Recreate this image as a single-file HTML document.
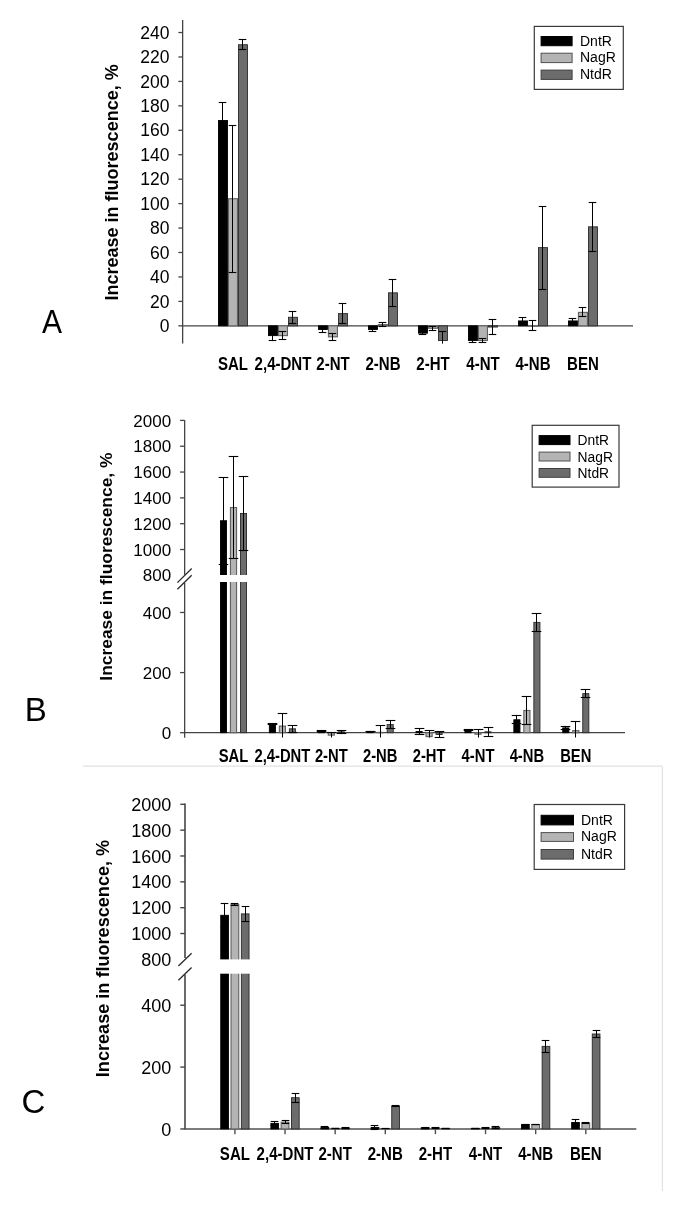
<!DOCTYPE html>
<html><head><meta charset="utf-8"><style>
html,body{margin:0;padding:0;background:#fff;}
svg{display:block;will-change:transform;filter:blur(0.35px);}
text{font-family:"Liberation Sans", sans-serif;fill:#000;}
</style></head><body>
<svg width="685" height="1220" viewBox="0 0 685 1220">
<rect width="685" height="1220" fill="#fff"/>
<line x1="182.64" y1="20.00" x2="182.64" y2="343.60" stroke="#444444" stroke-width="1.3"/>
<line x1="178.40" y1="325.83" x2="182.64" y2="325.83" stroke="#444444" stroke-width="1.3"/>
<text x="169.40" y="332.03" font-size="17.5" font-weight="normal" text-anchor="end" >0</text>
<line x1="178.40" y1="301.39" x2="182.64" y2="301.39" stroke="#444444" stroke-width="1.3"/>
<text x="169.40" y="307.59" font-size="17.5" font-weight="normal" text-anchor="end" >20</text>
<line x1="178.40" y1="276.95" x2="182.64" y2="276.95" stroke="#444444" stroke-width="1.3"/>
<text x="169.40" y="283.15" font-size="17.5" font-weight="normal" text-anchor="end" >40</text>
<line x1="178.40" y1="252.50" x2="182.64" y2="252.50" stroke="#444444" stroke-width="1.3"/>
<text x="169.40" y="258.70" font-size="17.5" font-weight="normal" text-anchor="end" >60</text>
<line x1="178.40" y1="228.06" x2="182.64" y2="228.06" stroke="#444444" stroke-width="1.3"/>
<text x="169.40" y="234.26" font-size="17.5" font-weight="normal" text-anchor="end" >80</text>
<line x1="178.40" y1="203.62" x2="182.64" y2="203.62" stroke="#444444" stroke-width="1.3"/>
<text x="169.40" y="209.82" font-size="17.5" font-weight="normal" text-anchor="end" >100</text>
<line x1="178.40" y1="179.18" x2="182.64" y2="179.18" stroke="#444444" stroke-width="1.3"/>
<text x="169.40" y="185.38" font-size="17.5" font-weight="normal" text-anchor="end" >120</text>
<line x1="178.40" y1="154.74" x2="182.64" y2="154.74" stroke="#444444" stroke-width="1.3"/>
<text x="169.40" y="160.94" font-size="17.5" font-weight="normal" text-anchor="end" >140</text>
<line x1="178.40" y1="130.29" x2="182.64" y2="130.29" stroke="#444444" stroke-width="1.3"/>
<text x="169.40" y="136.49" font-size="17.5" font-weight="normal" text-anchor="end" >160</text>
<line x1="178.40" y1="105.85" x2="182.64" y2="105.85" stroke="#444444" stroke-width="1.3"/>
<text x="169.40" y="112.05" font-size="17.5" font-weight="normal" text-anchor="end" >180</text>
<line x1="178.40" y1="81.41" x2="182.64" y2="81.41" stroke="#444444" stroke-width="1.3"/>
<text x="169.40" y="87.61" font-size="17.5" font-weight="normal" text-anchor="end" >200</text>
<line x1="178.40" y1="56.97" x2="182.64" y2="56.97" stroke="#444444" stroke-width="1.3"/>
<text x="169.40" y="63.17" font-size="17.5" font-weight="normal" text-anchor="end" >220</text>
<line x1="178.40" y1="32.53" x2="182.64" y2="32.53" stroke="#444444" stroke-width="1.3"/>
<text x="169.40" y="38.73" font-size="17.5" font-weight="normal" text-anchor="end" >240</text>
<line x1="182.64" y1="325.83" x2="633.00" y2="325.83" stroke="#444444" stroke-width="1.3"/>
<rect x="218.45" y="120.52" width="9.00" height="205.31" fill="#000000" stroke="#000000" stroke-width="0.9"/>
<rect x="228.45" y="198.73" width="9.00" height="127.10" fill="#b4b4b4" stroke="#626262" stroke-width="1.125"/>
<rect x="238.45" y="44.75" width="9.00" height="281.08" fill="#6c6c6c" stroke="#2a2a2a" stroke-width="0.9"/>
<rect x="268.45" y="325.83" width="9.00" height="9.78" fill="#000000" stroke="#000000" stroke-width="0.9"/>
<rect x="278.45" y="325.83" width="9.00" height="9.78" fill="#b4b4b4" stroke="#626262" stroke-width="1.125"/>
<rect x="288.45" y="317.28" width="9.00" height="8.55" fill="#6c6c6c" stroke="#2a2a2a" stroke-width="0.9"/>
<rect x="318.45" y="325.83" width="9.00" height="3.67" fill="#000000" stroke="#000000" stroke-width="0.9"/>
<rect x="328.45" y="325.83" width="9.00" height="11.00" fill="#b4b4b4" stroke="#626262" stroke-width="1.125"/>
<rect x="338.45" y="313.61" width="9.00" height="12.22" fill="#6c6c6c" stroke="#2a2a2a" stroke-width="0.9"/>
<rect x="368.45" y="325.83" width="9.00" height="3.67" fill="#000000" stroke="#000000" stroke-width="0.9"/>
<rect x="378.45" y="324.61" width="9.00" height="1.22" fill="#b4b4b4" stroke="#626262" stroke-width="1.125"/>
<rect x="388.45" y="292.83" width="9.00" height="33.00" fill="#6c6c6c" stroke="#2a2a2a" stroke-width="0.9"/>
<rect x="418.45" y="325.83" width="9.00" height="7.33" fill="#000000" stroke="#000000" stroke-width="0.9"/>
<rect x="428.45" y="325.83" width="9.00" height="2.44" fill="#b4b4b4" stroke="#626262" stroke-width="1.125"/>
<rect x="438.45" y="325.83" width="9.00" height="14.67" fill="#6c6c6c" stroke="#2a2a2a" stroke-width="0.9"/>
<rect x="468.45" y="325.83" width="9.00" height="14.67" fill="#000000" stroke="#000000" stroke-width="0.9"/>
<rect x="478.45" y="325.83" width="9.00" height="14.67" fill="#b4b4b4" stroke="#626262" stroke-width="1.125"/>
<rect x="488.45" y="325.83" width="9.00" height="1.22" fill="#6c6c6c" stroke="#2a2a2a" stroke-width="0.9"/>
<rect x="518.45" y="320.94" width="9.00" height="4.89" fill="#000000" stroke="#000000" stroke-width="0.9"/>
<rect x="528.45" y="325.83" width="9.00" height="0.30" fill="#b4b4b4" stroke="#626262" stroke-width="1.125"/>
<rect x="538.45" y="247.62" width="9.00" height="78.21" fill="#6c6c6c" stroke="#2a2a2a" stroke-width="0.9"/>
<rect x="568.45" y="320.94" width="9.00" height="4.89" fill="#000000" stroke="#000000" stroke-width="0.9"/>
<rect x="578.45" y="312.39" width="9.00" height="13.44" fill="#b4b4b4" stroke="#626262" stroke-width="1.125"/>
<rect x="588.45" y="226.84" width="9.00" height="98.99" fill="#6c6c6c" stroke="#2a2a2a" stroke-width="0.9"/>
<line x1="222.50" y1="102.50" x2="222.50" y2="138.50" stroke="#000000" stroke-width="1.0"/>
<line x1="218.70" y1="102.50" x2="226.30" y2="102.50" stroke="#000000" stroke-width="1.1"/>
<line x1="218.70" y1="138.50" x2="226.30" y2="138.50" stroke="#000000" stroke-width="1.1"/>
<line x1="232.50" y1="125.50" x2="232.50" y2="272.50" stroke="#000000" stroke-width="1.0"/>
<line x1="228.70" y1="125.50" x2="236.30" y2="125.50" stroke="#000000" stroke-width="1.1"/>
<line x1="228.70" y1="272.50" x2="236.30" y2="272.50" stroke="#000000" stroke-width="1.1"/>
<line x1="242.50" y1="39.50" x2="242.50" y2="49.50" stroke="#000000" stroke-width="1.0"/>
<line x1="238.70" y1="39.50" x2="246.30" y2="39.50" stroke="#000000" stroke-width="1.1"/>
<line x1="238.70" y1="49.50" x2="246.30" y2="49.50" stroke="#000000" stroke-width="1.1"/>
<line x1="272.50" y1="331.50" x2="272.50" y2="340.50" stroke="#000000" stroke-width="1.0"/>
<line x1="268.70" y1="331.50" x2="276.30" y2="331.50" stroke="#000000" stroke-width="1.1"/>
<line x1="268.70" y1="340.50" x2="276.30" y2="340.50" stroke="#000000" stroke-width="1.1"/>
<line x1="282.50" y1="331.50" x2="282.50" y2="339.50" stroke="#000000" stroke-width="1.0"/>
<line x1="278.70" y1="331.50" x2="286.30" y2="331.50" stroke="#000000" stroke-width="1.1"/>
<line x1="278.70" y1="339.50" x2="286.30" y2="339.50" stroke="#000000" stroke-width="1.1"/>
<line x1="292.50" y1="311.50" x2="292.50" y2="323.50" stroke="#000000" stroke-width="1.0"/>
<line x1="288.70" y1="311.50" x2="296.30" y2="311.50" stroke="#000000" stroke-width="1.1"/>
<line x1="288.70" y1="323.50" x2="296.30" y2="323.50" stroke="#000000" stroke-width="1.1"/>
<line x1="322.50" y1="326.50" x2="322.50" y2="332.50" stroke="#000000" stroke-width="1.0"/>
<line x1="318.70" y1="326.50" x2="326.30" y2="326.50" stroke="#000000" stroke-width="1.1"/>
<line x1="318.70" y1="332.50" x2="326.30" y2="332.50" stroke="#000000" stroke-width="1.1"/>
<line x1="332.50" y1="333.50" x2="332.50" y2="340.50" stroke="#000000" stroke-width="1.0"/>
<line x1="328.70" y1="333.50" x2="336.30" y2="333.50" stroke="#000000" stroke-width="1.1"/>
<line x1="328.70" y1="340.50" x2="336.30" y2="340.50" stroke="#000000" stroke-width="1.1"/>
<line x1="342.50" y1="303.50" x2="342.50" y2="323.50" stroke="#000000" stroke-width="1.0"/>
<line x1="338.70" y1="303.50" x2="346.30" y2="303.50" stroke="#000000" stroke-width="1.1"/>
<line x1="338.70" y1="323.50" x2="346.30" y2="323.50" stroke="#000000" stroke-width="1.1"/>
<line x1="372.50" y1="327.50" x2="372.50" y2="331.50" stroke="#000000" stroke-width="1.0"/>
<line x1="368.70" y1="327.50" x2="376.30" y2="327.50" stroke="#000000" stroke-width="1.1"/>
<line x1="368.70" y1="331.50" x2="376.30" y2="331.50" stroke="#000000" stroke-width="1.1"/>
<line x1="382.50" y1="322.50" x2="382.50" y2="326.50" stroke="#000000" stroke-width="1.0"/>
<line x1="378.70" y1="322.50" x2="386.30" y2="322.50" stroke="#000000" stroke-width="1.1"/>
<line x1="378.70" y1="326.50" x2="386.30" y2="326.50" stroke="#000000" stroke-width="1.1"/>
<line x1="392.50" y1="279.50" x2="392.50" y2="306.50" stroke="#000000" stroke-width="1.0"/>
<line x1="388.70" y1="279.50" x2="396.30" y2="279.50" stroke="#000000" stroke-width="1.1"/>
<line x1="388.70" y1="306.50" x2="396.30" y2="306.50" stroke="#000000" stroke-width="1.1"/>
<line x1="422.50" y1="331.50" x2="422.50" y2="334.50" stroke="#000000" stroke-width="1.0"/>
<line x1="418.70" y1="331.50" x2="426.30" y2="331.50" stroke="#000000" stroke-width="1.1"/>
<line x1="418.70" y1="334.50" x2="426.30" y2="334.50" stroke="#000000" stroke-width="1.1"/>
<line x1="432.50" y1="326.50" x2="432.50" y2="330.50" stroke="#000000" stroke-width="1.0"/>
<line x1="428.70" y1="326.50" x2="436.30" y2="326.50" stroke="#000000" stroke-width="1.1"/>
<line x1="428.70" y1="330.50" x2="436.30" y2="330.50" stroke="#000000" stroke-width="1.1"/>
<line x1="442.50" y1="331.50" x2="442.50" y2="343.60" stroke="#000000" stroke-width="1.0"/>
<line x1="438.70" y1="331.50" x2="446.30" y2="331.50" stroke="#000000" stroke-width="1.1"/>
<line x1="472.50" y1="338.50" x2="472.50" y2="342.50" stroke="#000000" stroke-width="1.0"/>
<line x1="468.70" y1="338.50" x2="476.30" y2="338.50" stroke="#000000" stroke-width="1.1"/>
<line x1="468.70" y1="342.50" x2="476.30" y2="342.50" stroke="#000000" stroke-width="1.1"/>
<line x1="482.50" y1="338.50" x2="482.50" y2="342.50" stroke="#000000" stroke-width="1.0"/>
<line x1="478.70" y1="338.50" x2="486.30" y2="338.50" stroke="#000000" stroke-width="1.1"/>
<line x1="478.70" y1="342.50" x2="486.30" y2="342.50" stroke="#000000" stroke-width="1.1"/>
<line x1="492.50" y1="319.50" x2="492.50" y2="334.50" stroke="#000000" stroke-width="1.0"/>
<line x1="488.70" y1="319.50" x2="496.30" y2="319.50" stroke="#000000" stroke-width="1.1"/>
<line x1="488.70" y1="334.50" x2="496.30" y2="334.50" stroke="#000000" stroke-width="1.1"/>
<line x1="522.50" y1="317.50" x2="522.50" y2="324.50" stroke="#000000" stroke-width="1.0"/>
<line x1="518.70" y1="317.50" x2="526.30" y2="317.50" stroke="#000000" stroke-width="1.1"/>
<line x1="518.70" y1="324.50" x2="526.30" y2="324.50" stroke="#000000" stroke-width="1.1"/>
<line x1="532.50" y1="320.50" x2="532.50" y2="330.50" stroke="#000000" stroke-width="1.0"/>
<line x1="528.70" y1="320.50" x2="536.30" y2="320.50" stroke="#000000" stroke-width="1.1"/>
<line x1="528.70" y1="330.50" x2="536.30" y2="330.50" stroke="#000000" stroke-width="1.1"/>
<line x1="542.50" y1="206.50" x2="542.50" y2="289.50" stroke="#000000" stroke-width="1.0"/>
<line x1="538.70" y1="206.50" x2="546.30" y2="206.50" stroke="#000000" stroke-width="1.1"/>
<line x1="538.70" y1="289.50" x2="546.30" y2="289.50" stroke="#000000" stroke-width="1.1"/>
<line x1="572.50" y1="318.50" x2="572.50" y2="323.50" stroke="#000000" stroke-width="1.0"/>
<line x1="568.70" y1="318.50" x2="576.30" y2="318.50" stroke="#000000" stroke-width="1.1"/>
<line x1="568.70" y1="323.50" x2="576.30" y2="323.50" stroke="#000000" stroke-width="1.1"/>
<line x1="582.50" y1="307.50" x2="582.50" y2="316.50" stroke="#000000" stroke-width="1.0"/>
<line x1="578.70" y1="307.50" x2="586.30" y2="307.50" stroke="#000000" stroke-width="1.1"/>
<line x1="578.70" y1="316.50" x2="586.30" y2="316.50" stroke="#000000" stroke-width="1.1"/>
<line x1="592.50" y1="202.50" x2="592.50" y2="251.50" stroke="#000000" stroke-width="1.0"/>
<line x1="588.70" y1="202.50" x2="596.30" y2="202.50" stroke="#000000" stroke-width="1.1"/>
<line x1="588.70" y1="251.50" x2="596.30" y2="251.50" stroke="#000000" stroke-width="1.1"/>
<text transform="translate(118.30,182.40) rotate(-90)" font-size="18" font-weight="bold" text-anchor="middle">Increase in fluorescence, %</text>
<text transform="translate(233.00,369.70) scale(0.86,1)" font-size="17.5" font-weight="bold" text-anchor="middle">SAL</text>
<text transform="translate(283.00,369.70) scale(0.86,1)" font-size="17.5" font-weight="bold" text-anchor="middle">2,4-DNT</text>
<text transform="translate(333.00,369.70) scale(0.86,1)" font-size="17.5" font-weight="bold" text-anchor="middle">2-NT</text>
<text transform="translate(383.00,369.70) scale(0.86,1)" font-size="17.5" font-weight="bold" text-anchor="middle">2-NB</text>
<text transform="translate(433.00,369.70) scale(0.86,1)" font-size="17.5" font-weight="bold" text-anchor="middle">2-HT</text>
<text transform="translate(483.00,369.70) scale(0.86,1)" font-size="17.5" font-weight="bold" text-anchor="middle">4-NT</text>
<text transform="translate(533.00,369.70) scale(0.86,1)" font-size="17.5" font-weight="bold" text-anchor="middle">4-NB</text>
<text transform="translate(583.00,369.70) scale(0.86,1)" font-size="17.5" font-weight="bold" text-anchor="middle">BEN</text>
<rect x="534.30" y="26.40" width="89.00" height="63.00" fill="#fff" stroke="#3a3a3a" stroke-width="1.2"/>
<rect x="541.10" y="36.50" width="31.00" height="9.20" fill="#000000" stroke="#000" stroke-width="1.0"/>
<text x="580.00" y="45.50" font-size="14" font-weight="normal" text-anchor="start" >DntR</text>
<rect x="541.10" y="53.20" width="31.00" height="9.40" fill="#b4b4b4" stroke="#505050" stroke-width="1.0"/>
<text x="580.00" y="62.40" font-size="14" font-weight="normal" text-anchor="start" >NagR</text>
<rect x="541.10" y="70.10" width="31.00" height="9.30" fill="#6c6c6c" stroke="#404040" stroke-width="1.0"/>
<text x="580.00" y="79.20" font-size="14" font-weight="normal" text-anchor="start" >NtdR</text>
<text transform="translate(42,332.6) scale(0.91,1)" font-size="33">A</text>
<line x1="184.64" y1="420.10" x2="184.64" y2="574.80" stroke="#444444" stroke-width="1.3"/>
<line x1="184.64" y1="582.80" x2="184.64" y2="737.70" stroke="#444444" stroke-width="1.3"/>
<line x1="180.10" y1="549.52" x2="184.64" y2="549.52" stroke="#444444" stroke-width="1.3"/>
<line x1="180.10" y1="523.70" x2="184.64" y2="523.70" stroke="#444444" stroke-width="1.3"/>
<line x1="180.10" y1="497.88" x2="184.64" y2="497.88" stroke="#444444" stroke-width="1.3"/>
<line x1="180.10" y1="472.05" x2="184.64" y2="472.05" stroke="#444444" stroke-width="1.3"/>
<line x1="180.10" y1="446.23" x2="184.64" y2="446.23" stroke="#444444" stroke-width="1.3"/>
<line x1="180.10" y1="420.41" x2="184.64" y2="420.41" stroke="#444444" stroke-width="1.3"/>
<text x="171.20" y="581.44" font-size="17" font-weight="normal" text-anchor="end" >800</text>
<text x="171.20" y="555.62" font-size="17" font-weight="normal" text-anchor="end" >1000</text>
<text x="171.20" y="529.80" font-size="17" font-weight="normal" text-anchor="end" >1200</text>
<text x="171.20" y="503.98" font-size="17" font-weight="normal" text-anchor="end" >1400</text>
<text x="171.20" y="478.15" font-size="17" font-weight="normal" text-anchor="end" >1600</text>
<text x="171.20" y="452.33" font-size="17" font-weight="normal" text-anchor="end" >1800</text>
<text x="171.20" y="426.51" font-size="17" font-weight="normal" text-anchor="end" >2000</text>
<line x1="180.10" y1="732.71" x2="184.64" y2="732.71" stroke="#444444" stroke-width="1.3"/>
<text x="171.20" y="738.81" font-size="17" font-weight="normal" text-anchor="end" >0</text>
<line x1="180.10" y1="672.59" x2="184.64" y2="672.59" stroke="#444444" stroke-width="1.3"/>
<text x="171.20" y="678.69" font-size="17" font-weight="normal" text-anchor="end" >200</text>
<line x1="180.10" y1="612.47" x2="184.64" y2="612.47" stroke="#444444" stroke-width="1.3"/>
<text x="171.20" y="618.57" font-size="17" font-weight="normal" text-anchor="end" >400</text>
<line x1="184.64" y1="732.71" x2="625.00" y2="732.71" stroke="#444444" stroke-width="1.3"/>
<rect x="220.45" y="520.73" width="6.10" height="211.98" fill="#000000" stroke="#000000" stroke-width="0.9"/>
<rect x="230.45" y="507.56" width="6.10" height="225.15" fill="#b4b4b4" stroke="#626262" stroke-width="1.125"/>
<rect x="240.45" y="513.50" width="6.10" height="219.21" fill="#6c6c6c" stroke="#2a2a2a" stroke-width="0.9"/>
<rect x="269.35" y="723.69" width="6.10" height="9.02" fill="#000000" stroke="#000000" stroke-width="0.9"/>
<rect x="279.35" y="726.10" width="6.10" height="6.61" fill="#b4b4b4" stroke="#626262" stroke-width="1.125"/>
<rect x="289.35" y="728.80" width="6.10" height="3.91" fill="#6c6c6c" stroke="#2a2a2a" stroke-width="0.9"/>
<rect x="318.25" y="730.91" width="6.10" height="1.80" fill="#000000" stroke="#000000" stroke-width="0.9"/>
<rect x="328.25" y="732.71" width="6.10" height="2.40" fill="#b4b4b4" stroke="#626262" stroke-width="1.125"/>
<rect x="338.25" y="731.81" width="6.10" height="0.90" fill="#6c6c6c" stroke="#2a2a2a" stroke-width="0.9"/>
<rect x="367.15" y="731.51" width="6.10" height="1.20" fill="#000000" stroke="#000000" stroke-width="0.9"/>
<rect x="377.15" y="732.41" width="6.10" height="0.30" fill="#b4b4b4" stroke="#626262" stroke-width="1.125"/>
<rect x="387.15" y="724.59" width="6.10" height="8.12" fill="#6c6c6c" stroke="#2a2a2a" stroke-width="0.9"/>
<rect x="416.05" y="731.51" width="6.10" height="1.20" fill="#000000" stroke="#000000" stroke-width="0.9"/>
<rect x="426.05" y="732.71" width="6.10" height="3.91" fill="#b4b4b4" stroke="#626262" stroke-width="1.125"/>
<rect x="436.05" y="732.71" width="6.10" height="1.80" fill="#6c6c6c" stroke="#2a2a2a" stroke-width="0.9"/>
<rect x="464.95" y="729.70" width="6.10" height="3.01" fill="#000000" stroke="#000000" stroke-width="0.9"/>
<rect x="474.95" y="732.71" width="6.10" height="1.50" fill="#b4b4b4" stroke="#626262" stroke-width="1.125"/>
<rect x="484.95" y="731.81" width="6.10" height="0.90" fill="#6c6c6c" stroke="#2a2a2a" stroke-width="0.9"/>
<rect x="513.85" y="719.78" width="6.10" height="12.93" fill="#000000" stroke="#000000" stroke-width="0.9"/>
<rect x="523.85" y="710.47" width="6.10" height="22.24" fill="#b4b4b4" stroke="#626262" stroke-width="1.125"/>
<rect x="533.85" y="622.39" width="6.10" height="110.32" fill="#6c6c6c" stroke="#2a2a2a" stroke-width="0.9"/>
<rect x="562.75" y="727.90" width="6.10" height="4.81" fill="#000000" stroke="#000000" stroke-width="0.9"/>
<rect x="572.75" y="730.61" width="6.10" height="2.10" fill="#b4b4b4" stroke="#626262" stroke-width="1.125"/>
<rect x="582.75" y="693.63" width="6.10" height="39.08" fill="#6c6c6c" stroke="#2a2a2a" stroke-width="0.9"/>
<line x1="223.50" y1="477.50" x2="223.50" y2="564.50" stroke="#000000" stroke-width="1.0"/>
<line x1="218.70" y1="477.50" x2="228.30" y2="477.50" stroke="#000000" stroke-width="1.1"/>
<line x1="218.70" y1="564.50" x2="228.30" y2="564.50" stroke="#000000" stroke-width="1.1"/>
<line x1="233.50" y1="456.50" x2="233.50" y2="558.50" stroke="#000000" stroke-width="1.0"/>
<line x1="228.70" y1="456.50" x2="238.30" y2="456.50" stroke="#000000" stroke-width="1.1"/>
<line x1="228.70" y1="558.50" x2="238.30" y2="558.50" stroke="#000000" stroke-width="1.1"/>
<line x1="243.50" y1="476.50" x2="243.50" y2="550.50" stroke="#000000" stroke-width="1.0"/>
<line x1="238.70" y1="476.50" x2="248.30" y2="476.50" stroke="#000000" stroke-width="1.1"/>
<line x1="238.70" y1="550.50" x2="248.30" y2="550.50" stroke="#000000" stroke-width="1.1"/>
<line x1="272.50" y1="723.50" x2="272.50" y2="724.50" stroke="#000000" stroke-width="1.0"/>
<line x1="267.70" y1="723.50" x2="277.30" y2="723.50" stroke="#000000" stroke-width="1.1"/>
<line x1="267.70" y1="724.50" x2="277.30" y2="724.50" stroke="#000000" stroke-width="1.1"/>
<line x1="282.50" y1="713.50" x2="282.50" y2="737.50" stroke="#000000" stroke-width="1.0"/>
<line x1="277.70" y1="713.50" x2="287.30" y2="713.50" stroke="#000000" stroke-width="1.1"/>
<line x1="292.50" y1="725.50" x2="292.50" y2="732.50" stroke="#000000" stroke-width="1.0"/>
<line x1="287.70" y1="725.50" x2="297.30" y2="725.50" stroke="#000000" stroke-width="1.1"/>
<line x1="287.70" y1="732.50" x2="297.30" y2="732.50" stroke="#000000" stroke-width="1.1"/>
<line x1="321.50" y1="730.50" x2="321.50" y2="731.50" stroke="#000000" stroke-width="1.0"/>
<line x1="316.70" y1="730.50" x2="326.30" y2="730.50" stroke="#000000" stroke-width="1.1"/>
<line x1="316.70" y1="731.50" x2="326.30" y2="731.50" stroke="#000000" stroke-width="1.1"/>
<line x1="331.50" y1="732.50" x2="331.50" y2="737.50" stroke="#000000" stroke-width="1.0"/>
<line x1="326.70" y1="732.50" x2="336.30" y2="732.50" stroke="#000000" stroke-width="1.1"/>
<line x1="341.50" y1="730.50" x2="341.50" y2="733.50" stroke="#000000" stroke-width="1.0"/>
<line x1="336.70" y1="730.50" x2="346.30" y2="730.50" stroke="#000000" stroke-width="1.1"/>
<line x1="336.70" y1="733.50" x2="346.30" y2="733.50" stroke="#000000" stroke-width="1.1"/>
<line x1="370.50" y1="731.50" x2="370.50" y2="731.50" stroke="#000000" stroke-width="1.0"/>
<line x1="365.70" y1="731.50" x2="375.30" y2="731.50" stroke="#000000" stroke-width="1.1"/>
<line x1="365.70" y1="731.50" x2="375.30" y2="731.50" stroke="#000000" stroke-width="1.1"/>
<line x1="380.50" y1="725.50" x2="380.50" y2="737.50" stroke="#000000" stroke-width="1.0"/>
<line x1="375.70" y1="725.50" x2="385.30" y2="725.50" stroke="#000000" stroke-width="1.1"/>
<line x1="390.50" y1="720.50" x2="390.50" y2="728.50" stroke="#000000" stroke-width="1.0"/>
<line x1="385.70" y1="720.50" x2="395.30" y2="720.50" stroke="#000000" stroke-width="1.1"/>
<line x1="385.70" y1="728.50" x2="395.30" y2="728.50" stroke="#000000" stroke-width="1.1"/>
<line x1="419.50" y1="728.50" x2="419.50" y2="734.50" stroke="#000000" stroke-width="1.0"/>
<line x1="414.70" y1="728.50" x2="424.30" y2="728.50" stroke="#000000" stroke-width="1.1"/>
<line x1="414.70" y1="734.50" x2="424.30" y2="734.50" stroke="#000000" stroke-width="1.1"/>
<line x1="429.50" y1="730.50" x2="429.50" y2="737.50" stroke="#000000" stroke-width="1.0"/>
<line x1="424.70" y1="730.50" x2="434.30" y2="730.50" stroke="#000000" stroke-width="1.1"/>
<line x1="439.50" y1="731.50" x2="439.50" y2="737.50" stroke="#000000" stroke-width="1.0"/>
<line x1="434.70" y1="731.50" x2="444.30" y2="731.50" stroke="#000000" stroke-width="1.1"/>
<line x1="434.70" y1="737.50" x2="444.30" y2="737.50" stroke="#000000" stroke-width="1.1"/>
<line x1="468.50" y1="729.50" x2="468.50" y2="730.50" stroke="#000000" stroke-width="1.0"/>
<line x1="463.70" y1="729.50" x2="473.30" y2="729.50" stroke="#000000" stroke-width="1.1"/>
<line x1="463.70" y1="730.50" x2="473.30" y2="730.50" stroke="#000000" stroke-width="1.1"/>
<line x1="478.50" y1="729.50" x2="478.50" y2="737.50" stroke="#000000" stroke-width="1.0"/>
<line x1="473.70" y1="729.50" x2="483.30" y2="729.50" stroke="#000000" stroke-width="1.1"/>
<line x1="488.50" y1="727.50" x2="488.50" y2="736.50" stroke="#000000" stroke-width="1.0"/>
<line x1="483.70" y1="727.50" x2="493.30" y2="727.50" stroke="#000000" stroke-width="1.1"/>
<line x1="483.70" y1="736.50" x2="493.30" y2="736.50" stroke="#000000" stroke-width="1.1"/>
<line x1="516.50" y1="715.50" x2="516.50" y2="723.50" stroke="#000000" stroke-width="1.0"/>
<line x1="511.70" y1="715.50" x2="521.30" y2="715.50" stroke="#000000" stroke-width="1.1"/>
<line x1="511.70" y1="723.50" x2="521.30" y2="723.50" stroke="#000000" stroke-width="1.1"/>
<line x1="526.50" y1="696.50" x2="526.50" y2="724.50" stroke="#000000" stroke-width="1.0"/>
<line x1="521.70" y1="696.50" x2="531.30" y2="696.50" stroke="#000000" stroke-width="1.1"/>
<line x1="521.70" y1="724.50" x2="531.30" y2="724.50" stroke="#000000" stroke-width="1.1"/>
<line x1="536.50" y1="613.50" x2="536.50" y2="631.50" stroke="#000000" stroke-width="1.0"/>
<line x1="531.70" y1="613.50" x2="541.30" y2="613.50" stroke="#000000" stroke-width="1.1"/>
<line x1="531.70" y1="631.50" x2="541.30" y2="631.50" stroke="#000000" stroke-width="1.1"/>
<line x1="565.50" y1="726.50" x2="565.50" y2="729.50" stroke="#000000" stroke-width="1.0"/>
<line x1="560.70" y1="726.50" x2="570.30" y2="726.50" stroke="#000000" stroke-width="1.1"/>
<line x1="560.70" y1="729.50" x2="570.30" y2="729.50" stroke="#000000" stroke-width="1.1"/>
<line x1="575.50" y1="721.50" x2="575.50" y2="737.50" stroke="#000000" stroke-width="1.0"/>
<line x1="570.70" y1="721.50" x2="580.30" y2="721.50" stroke="#000000" stroke-width="1.1"/>
<line x1="585.50" y1="689.50" x2="585.50" y2="697.50" stroke="#000000" stroke-width="1.0"/>
<line x1="580.70" y1="689.50" x2="590.30" y2="689.50" stroke="#000000" stroke-width="1.1"/>
<line x1="580.70" y1="697.50" x2="590.30" y2="697.50" stroke="#000000" stroke-width="1.1"/>
<rect x="213.50" y="575.00" width="40" height="7.00" fill="#fff"/>
<rect x="176" y="575" width="16" height="8" fill="#fff"/>
<line x1="177.40" y1="582.60" x2="191.70" y2="568.50" stroke="#2a2a2a" stroke-width="1.3"/>
<line x1="177.40" y1="589.30" x2="191.70" y2="575.30" stroke="#2a2a2a" stroke-width="1.3"/>
<text transform="translate(111.50,566.60) rotate(-90)" font-size="17.4" font-weight="bold" text-anchor="middle">Increase in fluorescence, %</text>
<text transform="translate(233.50,761.50) scale(0.845,1)" font-size="17.5" font-weight="bold" text-anchor="middle">SAL</text>
<text transform="translate(282.40,761.50) scale(0.845,1)" font-size="17.5" font-weight="bold" text-anchor="middle">2,4-DNT</text>
<text transform="translate(331.30,761.50) scale(0.845,1)" font-size="17.5" font-weight="bold" text-anchor="middle">2-NT</text>
<text transform="translate(380.20,761.50) scale(0.845,1)" font-size="17.5" font-weight="bold" text-anchor="middle">2-NB</text>
<text transform="translate(429.10,761.50) scale(0.845,1)" font-size="17.5" font-weight="bold" text-anchor="middle">2-HT</text>
<text transform="translate(478.00,761.50) scale(0.845,1)" font-size="17.5" font-weight="bold" text-anchor="middle">4-NT</text>
<text transform="translate(526.90,761.50) scale(0.845,1)" font-size="17.5" font-weight="bold" text-anchor="middle">4-NB</text>
<text transform="translate(575.80,761.50) scale(0.845,1)" font-size="17.5" font-weight="bold" text-anchor="middle">BEN</text>
<rect x="532.20" y="425.30" width="86.80" height="61.80" fill="#fff" stroke="#3a3a3a" stroke-width="1.2"/>
<rect x="539.10" y="435.60" width="30.90" height="9.00" fill="#000000" stroke="#000" stroke-width="1.0"/>
<text x="577.60" y="445.20" font-size="13.8" font-weight="normal" text-anchor="start" >DntR</text>
<rect x="539.10" y="452.10" width="30.90" height="8.90" fill="#b4b4b4" stroke="#505050" stroke-width="1.0"/>
<text x="577.60" y="461.60" font-size="13.8" font-weight="normal" text-anchor="start" >NagR</text>
<rect x="539.10" y="468.50" width="30.90" height="8.80" fill="#6c6c6c" stroke="#404040" stroke-width="1.0"/>
<text x="577.60" y="477.90" font-size="13.8" font-weight="normal" text-anchor="start" >NtdR</text>
<text x="24.80" y="720.50" font-size="33" font-weight="normal" text-anchor="start" >B</text>
<line x1="185.00" y1="803.60" x2="185.00" y2="958.10" stroke="#505050" stroke-width="1.7"/>
<line x1="185.00" y1="974.50" x2="185.00" y2="1129.60" stroke="#505050" stroke-width="1.7"/>
<line x1="180.30" y1="933.52" x2="185.00" y2="933.52" stroke="#454545" stroke-width="1.4"/>
<line x1="180.30" y1="907.67" x2="185.00" y2="907.67" stroke="#454545" stroke-width="1.4"/>
<line x1="180.30" y1="881.83" x2="185.00" y2="881.83" stroke="#454545" stroke-width="1.4"/>
<line x1="180.30" y1="855.98" x2="185.00" y2="855.98" stroke="#454545" stroke-width="1.4"/>
<line x1="180.30" y1="830.14" x2="185.00" y2="830.14" stroke="#454545" stroke-width="1.4"/>
<line x1="180.30" y1="804.29" x2="185.00" y2="804.29" stroke="#454545" stroke-width="1.4"/>
<text x="171.20" y="965.97" font-size="18" font-weight="normal" text-anchor="end" >800</text>
<text x="171.20" y="940.12" font-size="18" font-weight="normal" text-anchor="end" >1000</text>
<text x="171.20" y="914.27" font-size="18" font-weight="normal" text-anchor="end" >1200</text>
<text x="171.20" y="888.43" font-size="18" font-weight="normal" text-anchor="end" >1400</text>
<text x="171.20" y="862.58" font-size="18" font-weight="normal" text-anchor="end" >1600</text>
<text x="171.20" y="836.74" font-size="18" font-weight="normal" text-anchor="end" >1800</text>
<text x="171.20" y="810.89" font-size="18" font-weight="normal" text-anchor="end" >2000</text>
<line x1="180.30" y1="1128.94" x2="185.00" y2="1128.94" stroke="#454545" stroke-width="1.4"/>
<text x="171.20" y="1135.54" font-size="18" font-weight="normal" text-anchor="end" >0</text>
<line x1="180.30" y1="1067.09" x2="185.00" y2="1067.09" stroke="#454545" stroke-width="1.4"/>
<text x="171.20" y="1073.69" font-size="18" font-weight="normal" text-anchor="end" >200</text>
<line x1="180.30" y1="1005.24" x2="185.00" y2="1005.24" stroke="#454545" stroke-width="1.4"/>
<text x="171.20" y="1011.84" font-size="18" font-weight="normal" text-anchor="end" >400</text>
<line x1="185.00" y1="1128.94" x2="636.30" y2="1128.94" stroke="#505050" stroke-width="1.6"/>
<line x1="234.90" y1="1128.90" x2="234.90" y2="1134.20" stroke="#505050" stroke-width="1.4"/>
<line x1="285.03" y1="1128.90" x2="285.03" y2="1134.20" stroke="#505050" stroke-width="1.4"/>
<line x1="335.16" y1="1128.90" x2="335.16" y2="1134.20" stroke="#505050" stroke-width="1.4"/>
<line x1="385.29" y1="1128.90" x2="385.29" y2="1134.20" stroke="#505050" stroke-width="1.4"/>
<line x1="435.42" y1="1128.90" x2="435.42" y2="1134.20" stroke="#505050" stroke-width="1.4"/>
<line x1="485.55" y1="1128.90" x2="485.55" y2="1134.20" stroke="#505050" stroke-width="1.4"/>
<line x1="535.68" y1="1128.90" x2="535.68" y2="1134.20" stroke="#505050" stroke-width="1.4"/>
<line x1="585.81" y1="1128.90" x2="585.81" y2="1134.20" stroke="#505050" stroke-width="1.4"/>
<rect x="220.75" y="915.30" width="7.70" height="213.64" fill="#000000" stroke="#000000" stroke-width="0.9"/>
<rect x="231.05" y="904.44" width="7.70" height="224.50" fill="#b4b4b4" stroke="#626262" stroke-width="1.125"/>
<rect x="241.35" y="913.88" width="7.70" height="215.06" fill="#6c6c6c" stroke="#2a2a2a" stroke-width="0.9"/>
<rect x="270.88" y="1123.37" width="7.70" height="5.57" fill="#000000" stroke="#000000" stroke-width="0.9"/>
<rect x="281.18" y="1122.14" width="7.70" height="6.80" fill="#b4b4b4" stroke="#626262" stroke-width="1.125"/>
<rect x="291.48" y="1097.71" width="7.70" height="31.23" fill="#6c6c6c" stroke="#2a2a2a" stroke-width="0.9"/>
<rect x="321.01" y="1127.39" width="7.70" height="1.55" fill="#000000" stroke="#000000" stroke-width="0.9"/>
<rect x="331.31" y="1128.32" width="7.70" height="0.62" fill="#b4b4b4" stroke="#626262" stroke-width="1.125"/>
<rect x="341.61" y="1128.01" width="7.70" height="0.93" fill="#6c6c6c" stroke="#2a2a2a" stroke-width="0.9"/>
<rect x="371.14" y="1127.39" width="7.70" height="1.55" fill="#000000" stroke="#000000" stroke-width="0.9"/>
<rect x="381.44" y="1128.63" width="7.70" height="0.31" fill="#b4b4b4" stroke="#626262" stroke-width="1.125"/>
<rect x="391.74" y="1106.06" width="7.70" height="22.88" fill="#6c6c6c" stroke="#2a2a2a" stroke-width="0.9"/>
<rect x="421.27" y="1127.70" width="7.70" height="1.24" fill="#000000" stroke="#000000" stroke-width="0.9"/>
<rect x="431.57" y="1128.01" width="7.70" height="0.93" fill="#b4b4b4" stroke="#626262" stroke-width="1.125"/>
<rect x="441.87" y="1128.32" width="7.70" height="0.62" fill="#6c6c6c" stroke="#2a2a2a" stroke-width="0.9"/>
<rect x="471.40" y="1128.32" width="7.70" height="0.62" fill="#000000" stroke="#000000" stroke-width="0.9"/>
<rect x="481.70" y="1128.01" width="7.70" height="0.93" fill="#b4b4b4" stroke="#626262" stroke-width="1.125"/>
<rect x="492.00" y="1127.39" width="7.70" height="1.55" fill="#6c6c6c" stroke="#2a2a2a" stroke-width="0.9"/>
<rect x="521.53" y="1124.61" width="7.70" height="4.33" fill="#000000" stroke="#000000" stroke-width="0.9"/>
<rect x="531.83" y="1124.61" width="7.70" height="4.33" fill="#b4b4b4" stroke="#626262" stroke-width="1.125"/>
<rect x="542.13" y="1046.37" width="7.70" height="82.57" fill="#6c6c6c" stroke="#2a2a2a" stroke-width="0.9"/>
<rect x="571.66" y="1122.45" width="7.70" height="6.49" fill="#000000" stroke="#000000" stroke-width="0.9"/>
<rect x="581.96" y="1123.06" width="7.70" height="5.88" fill="#b4b4b4" stroke="#626262" stroke-width="1.125"/>
<rect x="592.26" y="1034.00" width="7.70" height="94.94" fill="#6c6c6c" stroke="#2a2a2a" stroke-width="0.9"/>
<line x1="224.50" y1="903.50" x2="224.50" y2="927.50" stroke="#000000" stroke-width="1.0"/>
<line x1="220.70" y1="903.50" x2="228.30" y2="903.50" stroke="#000000" stroke-width="1.1"/>
<line x1="220.70" y1="927.50" x2="228.30" y2="927.50" stroke="#000000" stroke-width="1.1"/>
<line x1="234.50" y1="903.50" x2="234.50" y2="905.50" stroke="#000000" stroke-width="1.0"/>
<line x1="230.70" y1="903.50" x2="238.30" y2="903.50" stroke="#000000" stroke-width="1.1"/>
<line x1="230.70" y1="905.50" x2="238.30" y2="905.50" stroke="#000000" stroke-width="1.1"/>
<line x1="245.50" y1="906.50" x2="245.50" y2="921.50" stroke="#000000" stroke-width="1.0"/>
<line x1="241.70" y1="906.50" x2="249.30" y2="906.50" stroke="#000000" stroke-width="1.1"/>
<line x1="241.70" y1="921.50" x2="249.30" y2="921.50" stroke="#000000" stroke-width="1.1"/>
<line x1="274.50" y1="1121.50" x2="274.50" y2="1125.50" stroke="#000000" stroke-width="1.0"/>
<line x1="270.70" y1="1121.50" x2="278.30" y2="1121.50" stroke="#000000" stroke-width="1.1"/>
<line x1="270.70" y1="1125.50" x2="278.30" y2="1125.50" stroke="#000000" stroke-width="1.1"/>
<line x1="285.50" y1="1120.50" x2="285.50" y2="1123.50" stroke="#000000" stroke-width="1.0"/>
<line x1="281.70" y1="1120.50" x2="289.30" y2="1120.50" stroke="#000000" stroke-width="1.1"/>
<line x1="281.70" y1="1123.50" x2="289.30" y2="1123.50" stroke="#000000" stroke-width="1.1"/>
<line x1="295.50" y1="1093.50" x2="295.50" y2="1102.50" stroke="#000000" stroke-width="1.0"/>
<line x1="291.70" y1="1093.50" x2="299.30" y2="1093.50" stroke="#000000" stroke-width="1.1"/>
<line x1="291.70" y1="1102.50" x2="299.30" y2="1102.50" stroke="#000000" stroke-width="1.1"/>
<line x1="324.50" y1="1126.50" x2="324.50" y2="1128.50" stroke="#000000" stroke-width="1.0"/>
<line x1="320.70" y1="1126.50" x2="328.30" y2="1126.50" stroke="#000000" stroke-width="1.1"/>
<line x1="320.70" y1="1128.50" x2="328.30" y2="1128.50" stroke="#000000" stroke-width="1.1"/>
<line x1="335.50" y1="1128.50" x2="335.50" y2="1128.50" stroke="#000000" stroke-width="1.0"/>
<line x1="331.70" y1="1128.50" x2="339.30" y2="1128.50" stroke="#000000" stroke-width="1.1"/>
<line x1="331.70" y1="1128.50" x2="339.30" y2="1128.50" stroke="#000000" stroke-width="1.1"/>
<line x1="345.50" y1="1127.50" x2="345.50" y2="1128.50" stroke="#000000" stroke-width="1.0"/>
<line x1="341.70" y1="1127.50" x2="349.30" y2="1127.50" stroke="#000000" stroke-width="1.1"/>
<line x1="341.70" y1="1128.50" x2="349.30" y2="1128.50" stroke="#000000" stroke-width="1.1"/>
<line x1="374.50" y1="1125.50" x2="374.50" y2="1129.50" stroke="#000000" stroke-width="1.0"/>
<line x1="370.70" y1="1125.50" x2="378.30" y2="1125.50" stroke="#000000" stroke-width="1.1"/>
<line x1="370.70" y1="1129.50" x2="378.30" y2="1129.50" stroke="#000000" stroke-width="1.1"/>
<line x1="385.50" y1="1128.50" x2="385.50" y2="1128.50" stroke="#000000" stroke-width="1.0"/>
<line x1="381.70" y1="1128.50" x2="389.30" y2="1128.50" stroke="#000000" stroke-width="1.1"/>
<line x1="381.70" y1="1128.50" x2="389.30" y2="1128.50" stroke="#000000" stroke-width="1.1"/>
<line x1="395.50" y1="1105.50" x2="395.50" y2="1106.50" stroke="#000000" stroke-width="1.0"/>
<line x1="391.70" y1="1105.50" x2="399.30" y2="1105.50" stroke="#000000" stroke-width="1.1"/>
<line x1="391.70" y1="1106.50" x2="399.30" y2="1106.50" stroke="#000000" stroke-width="1.1"/>
<line x1="425.50" y1="1127.50" x2="425.50" y2="1128.50" stroke="#000000" stroke-width="1.0"/>
<line x1="421.70" y1="1127.50" x2="429.30" y2="1127.50" stroke="#000000" stroke-width="1.1"/>
<line x1="421.70" y1="1128.50" x2="429.30" y2="1128.50" stroke="#000000" stroke-width="1.1"/>
<line x1="435.50" y1="1127.50" x2="435.50" y2="1128.50" stroke="#000000" stroke-width="1.0"/>
<line x1="431.70" y1="1127.50" x2="439.30" y2="1127.50" stroke="#000000" stroke-width="1.1"/>
<line x1="431.70" y1="1128.50" x2="439.30" y2="1128.50" stroke="#000000" stroke-width="1.1"/>
<line x1="445.50" y1="1128.50" x2="445.50" y2="1128.50" stroke="#000000" stroke-width="1.0"/>
<line x1="441.70" y1="1128.50" x2="449.30" y2="1128.50" stroke="#000000" stroke-width="1.1"/>
<line x1="441.70" y1="1128.50" x2="449.30" y2="1128.50" stroke="#000000" stroke-width="1.1"/>
<line x1="475.50" y1="1128.50" x2="475.50" y2="1128.50" stroke="#000000" stroke-width="1.0"/>
<line x1="471.70" y1="1128.50" x2="479.30" y2="1128.50" stroke="#000000" stroke-width="1.1"/>
<line x1="471.70" y1="1128.50" x2="479.30" y2="1128.50" stroke="#000000" stroke-width="1.1"/>
<line x1="485.50" y1="1127.50" x2="485.50" y2="1128.50" stroke="#000000" stroke-width="1.0"/>
<line x1="481.70" y1="1127.50" x2="489.30" y2="1127.50" stroke="#000000" stroke-width="1.1"/>
<line x1="481.70" y1="1128.50" x2="489.30" y2="1128.50" stroke="#000000" stroke-width="1.1"/>
<line x1="495.50" y1="1126.50" x2="495.50" y2="1128.50" stroke="#000000" stroke-width="1.0"/>
<line x1="491.70" y1="1126.50" x2="499.30" y2="1126.50" stroke="#000000" stroke-width="1.1"/>
<line x1="491.70" y1="1128.50" x2="499.30" y2="1128.50" stroke="#000000" stroke-width="1.1"/>
<line x1="525.50" y1="1124.50" x2="525.50" y2="1124.50" stroke="#000000" stroke-width="1.0"/>
<line x1="521.70" y1="1124.50" x2="529.30" y2="1124.50" stroke="#000000" stroke-width="1.1"/>
<line x1="521.70" y1="1124.50" x2="529.30" y2="1124.50" stroke="#000000" stroke-width="1.1"/>
<line x1="535.50" y1="1124.50" x2="535.50" y2="1124.50" stroke="#000000" stroke-width="1.0"/>
<line x1="531.70" y1="1124.50" x2="539.30" y2="1124.50" stroke="#000000" stroke-width="1.1"/>
<line x1="531.70" y1="1124.50" x2="539.30" y2="1124.50" stroke="#000000" stroke-width="1.1"/>
<line x1="545.50" y1="1040.50" x2="545.50" y2="1052.50" stroke="#000000" stroke-width="1.0"/>
<line x1="541.70" y1="1040.50" x2="549.30" y2="1040.50" stroke="#000000" stroke-width="1.1"/>
<line x1="541.70" y1="1052.50" x2="549.30" y2="1052.50" stroke="#000000" stroke-width="1.1"/>
<line x1="575.50" y1="1119.50" x2="575.50" y2="1125.50" stroke="#000000" stroke-width="1.0"/>
<line x1="571.70" y1="1119.50" x2="579.30" y2="1119.50" stroke="#000000" stroke-width="1.1"/>
<line x1="571.70" y1="1125.50" x2="579.30" y2="1125.50" stroke="#000000" stroke-width="1.1"/>
<line x1="585.50" y1="1122.50" x2="585.50" y2="1123.50" stroke="#000000" stroke-width="1.0"/>
<line x1="581.70" y1="1122.50" x2="589.30" y2="1122.50" stroke="#000000" stroke-width="1.1"/>
<line x1="581.70" y1="1123.50" x2="589.30" y2="1123.50" stroke="#000000" stroke-width="1.1"/>
<line x1="596.50" y1="1030.50" x2="596.50" y2="1037.50" stroke="#000000" stroke-width="1.0"/>
<line x1="592.70" y1="1030.50" x2="600.30" y2="1030.50" stroke="#000000" stroke-width="1.1"/>
<line x1="592.70" y1="1037.50" x2="600.30" y2="1037.50" stroke="#000000" stroke-width="1.1"/>
<rect x="214.90" y="959.40" width="40" height="14.30" fill="#fff"/>
<rect x="176" y="959" width="18" height="15" fill="#fff"/>
<line x1="178.40" y1="966.00" x2="191.60" y2="953.20" stroke="#2a2a2a" stroke-width="1.3"/>
<line x1="178.40" y1="980.30" x2="191.60" y2="967.50" stroke="#2a2a2a" stroke-width="1.3"/>
<text transform="translate(109.00,958.50) rotate(-90)" font-size="18.1" font-weight="bold" text-anchor="middle">Increase in fluorescence, %</text>
<text transform="translate(234.90,1159.50) scale(0.86,1)" font-size="17.5" font-weight="bold" text-anchor="middle">SAL</text>
<text transform="translate(285.03,1159.50) scale(0.86,1)" font-size="17.5" font-weight="bold" text-anchor="middle">2,4-DNT</text>
<text transform="translate(335.16,1159.50) scale(0.86,1)" font-size="17.5" font-weight="bold" text-anchor="middle">2-NT</text>
<text transform="translate(385.29,1159.50) scale(0.86,1)" font-size="17.5" font-weight="bold" text-anchor="middle">2-NB</text>
<text transform="translate(435.42,1159.50) scale(0.86,1)" font-size="17.5" font-weight="bold" text-anchor="middle">2-HT</text>
<text transform="translate(485.55,1159.50) scale(0.86,1)" font-size="17.5" font-weight="bold" text-anchor="middle">4-NT</text>
<text transform="translate(535.68,1159.50) scale(0.86,1)" font-size="17.5" font-weight="bold" text-anchor="middle">4-NB</text>
<text transform="translate(585.81,1159.50) scale(0.86,1)" font-size="17.5" font-weight="bold" text-anchor="middle">BEN</text>
<rect x="534.20" y="804.50" width="90.40" height="64.90" fill="#fff" stroke="#3a3a3a" stroke-width="1.2"/>
<rect x="541.10" y="815.30" width="32.40" height="9.60" fill="#000000" stroke="#000" stroke-width="1.0"/>
<text x="581.00" y="824.70" font-size="14" font-weight="normal" text-anchor="start" >DntR</text>
<rect x="541.10" y="832.60" width="32.40" height="8.80" fill="#b4b4b4" stroke="#505050" stroke-width="1.0"/>
<text x="581.00" y="841.20" font-size="14" font-weight="normal" text-anchor="start" >NagR</text>
<rect x="541.10" y="849.50" width="32.40" height="9.60" fill="#6c6c6c" stroke="#404040" stroke-width="1.0"/>
<text x="581.00" y="858.90" font-size="14" font-weight="normal" text-anchor="start" >NtdR</text>
<text x="21.60" y="1113.00" font-size="33" font-weight="normal" text-anchor="start" >C</text>
<line x1="83.00" y1="766.20" x2="662.40" y2="766.20" stroke="#e2e2e2" stroke-width="1.2"/>
<line x1="662.40" y1="766.20" x2="662.40" y2="1191.00" stroke="#e2e2e2" stroke-width="1.2"/>
</svg></body></html>
